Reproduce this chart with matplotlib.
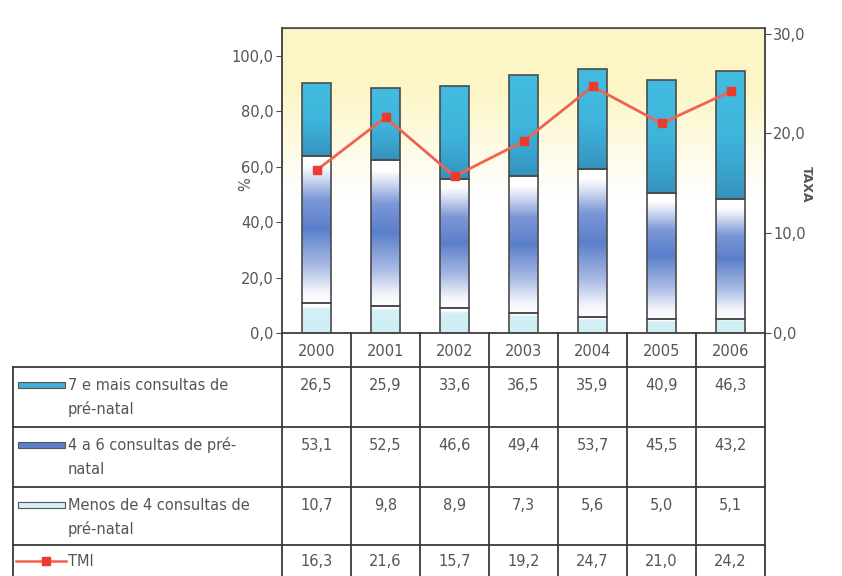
import numpy as np
import matplotlib
matplotlib.use("Agg")
import matplotlib.pyplot as plt
from matplotlib.colors import LinearSegmentedColormap
from matplotlib.lines import Line2D
from matplotlib.patches import Rectangle

plt.rcParams['font.family'] = ['DejaVu Sans']

years = ["2000", "2001", "2002", "2003", "2004", "2005", "2006"]
menos_4 = [10.7, 9.8, 8.9, 7.3, 5.6, 5.0, 5.1]
de_4_a_6 = [53.1, 52.5, 46.6, 49.4, 53.7, 45.5, 43.2]
mais_7 = [26.5, 25.9, 33.6, 36.5, 35.9, 40.9, 46.3]
tmi = [16.3, 21.6, 15.7, 19.2, 24.7, 21.0, 24.2]

series_labels = ["7 e mais consultas de\npré-natal",
                 "4 a 6 consultas de pré-\nnatal",
                 "Menos de 4 consultas de\npré-natal",
                 "TMI"]

W, H = 842, 576
fig = plt.figure(figsize=(W / 100, H / 100), dpi=100)
fig.patch.set_facecolor("white")

# main axes in pixel layout
ax_l, ax_r, ax_t, ax_b = 282, 765, 28, 333
ax = fig.add_axes([ax_l / W, 1 - ax_b / H, (ax_r - ax_l) / W, (ax_b - ax_t) / H])
ax2 = ax.twinx()

text_col = "#555555"
edge_col = "#4a4a4a"
fs = 10.5

# plot-area background: pale yellow fading to white
bg = np.ones((256, 1, 3))
t = np.linspace(0, 1, 256)[:, None]          # 0 = bottom, 1 = top
w = np.clip((t - 0.45) / 0.35, 0, 1)
top = np.array([252, 246, 198]) / 255
bg[:, 0, :] = (1 - w) * 1.0 + w * top
ax.imshow(bg, extent=(-0.5, 6.5, 0, 110), aspect="auto", origin="lower", zorder=0)

x = np.arange(len(years))
bw = 0.41
b1 = ax.bar(x, menos_4, bw, color="none", edgecolor=edge_col, linewidth=1.2, zorder=3)
bottom2 = np.array(menos_4)
b2 = ax.bar(x, de_4_a_6, bw, bottom=bottom2, color="none", edgecolor=edge_col, linewidth=1.2, zorder=3)
bottom3 = bottom2 + np.array(de_4_a_6)
b3 = ax.bar(x, mais_7, bw, bottom=bottom3, color="none", edgecolor=edge_col, linewidth=1.2, zorder=3)

cm_low = LinearSegmentedColormap.from_list("low", [(0, "#cdeef4"), (0.8, "#d4f0f6"), (0.9, "#ffffff"), (1, "#ffffff")])
cm_mid = LinearSegmentedColormap.from_list("mid", [(0, "#ffffff"), (0.08, "#f2f4fb"), (0.25, "#a9bbe4"),
                                                   (0.5, "#5b7fcb"), (0.7, "#7b97d6"), (0.85, "#d5def2"),
                                                   (0.93, "#ffffff"), (1, "#ffffff")])
cm_top = LinearSegmentedColormap.from_list("top", [(0, "#3592bd"), (0.25, "#3aa6d0"), (0.5, "#3fb5dc"), (1, "#43bbe0")])

grad = np.linspace(0, 1, 256)[:, None]
for bars, cmap in ((b1, cm_low), (b2, cm_mid), (b3, cm_top)):
    for p in bars:
        x0, y0 = p.get_x(), p.get_y()
        im = ax.imshow(grad, cmap=cmap, extent=(x0, x0 + p.get_width(), y0, y0 + p.get_height()),
                       aspect="auto", origin="lower", zorder=2)
        im.set_clip_path(p)

ax.set_xlim(-0.5, 6.5)
ax.set_ylim(0, 110)
ax.set_yticks([0, 20, 40, 60, 80, 100])
ax.set_yticklabels([f"{v:.1f}".replace(".", ",") for v in [0, 20, 40, 60, 80, 100]])
ax.set_xticks([])
ax.tick_params(axis="y", colors=text_col, labelsize=fs, length=4, direction="out", pad=2)
ax.tick_params(axis="y", color=edge_col)

ax2.plot(x, tmi, color="#f0634e", linewidth=2, marker="s", markersize=6,
         markerfacecolor="#ec3b2e", markeredgecolor="#ec3b2e", zorder=5)
ax2.set_ylim(0, 30 * 110 / 108)
ax2.set_yticks([0, 10, 20, 30])
ax2.set_yticklabels([f"{v:.1f}".replace(".", ",") for v in [0, 10, 20, 30]])
ax2.tick_params(axis="y", colors=text_col, labelsize=fs, length=4, direction="out", pad=2)
ax2.tick_params(axis="y", color=edge_col)

for a in (ax, ax2):
    for s in a.spines.values():
        s.set_color(edge_col)
        s.set_linewidth(1.2)
ax.spines["top"].set_color("#888888")
ax.spines["top"].set_linewidth(0.8)

# data table below the chart
tab = fig.add_axes([0, 0, 1, 1])
tab.set_xlim(0, W)
tab.set_ylim(H, 0)
tab.axis("off")
tab.patch.set_alpha(0)

# axis titles
tab.text(246, 184, "%", ha="center", va="center", rotation=90, fontsize=fs, color=text_col)
tab.text(806, 184, "TAXA", ha="center", va="center", rotation=-90, fontsize=9,
         fontweight="bold", color=text_col)

col_w = (ax_r - ax_l) / len(years)
col_x = [ax_l + i * col_w for i in range(len(years) + 1)]
row_y = [ax_b, 367, 427, 487, 545, 600]
left_x = 13
lc = "#3a3a3a"
lw = 1.3

# horizontal lines
for yy in row_y[1:5]:
    tab.add_line(Line2D([left_x, col_x[-1]], [yy, yy], color=lc, lw=lw))
# vertical lines of year columns
for xx in col_x:
    tab.add_line(Line2D([xx, xx], [ax_b, H], color=lc, lw=lw))
tab.add_line(Line2D([left_x, left_x], [row_y[1], H], color=lc, lw=lw))

for i, yr in enumerate(years):
    cx = col_x[i] + col_w / 2
    tab.text(cx, (row_y[0] + row_y[1]) / 2 + 1, yr, ha="center", va="center", fontsize=fs, color=text_col)

rows = [mais_7, de_4_a_6, menos_4, tmi]
for r, vals in enumerate(rows):
    ytxt = row_y[r + 1] + 18 if r < 3 else row_y[r + 1] + 16
    for i, v in enumerate(vals):
        cx = col_x[i] + col_w / 2
        tab.text(cx, ytxt, f"{v:.1f}".replace(".", ","), ha="center", va="center",
                 fontsize=fs, color=text_col)
    # row label
    lines = series_labels[r].split("\n")
    for k, ln in enumerate(lines):
        tab.text(68, ytxt + k * 24, ln, ha="left", va="center", fontsize=fs, color=text_col)

# legend keys
key_fills = ["#3faed8", "#5b7fcb", "#d4f0f6"]
for r in range(3):
    ytxt = row_y[r + 1] + 18
    tab.add_patch(Rectangle((18, ytxt - 3), 47, 6, facecolor=key_fills[r], edgecolor="#555555", lw=0.8))
ytmi = row_y[4] + 16
tab.add_line(Line2D([16, 66], [ytmi, ytmi], color="#f0634e", lw=1.8))
tab.add_line(Line2D([46], [ytmi], color="#ec3b2e", marker="s", markersize=6, lw=0))

fig.savefig("out.png", dpi=100, facecolor="white")
